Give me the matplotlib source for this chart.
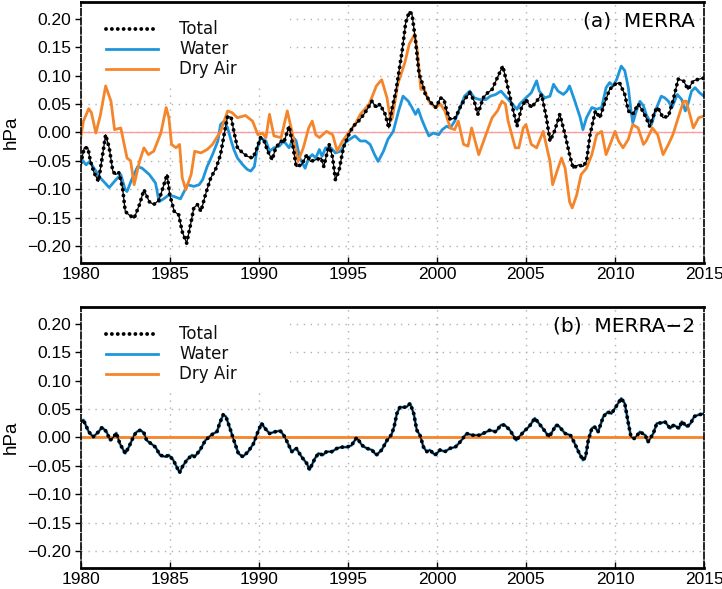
import numpy as np
import matplotlib
matplotlib.use("Agg")
import matplotlib.pyplot as plt
from matplotlib.patches import Rectangle

# (year, hPa) pares
merra_total = [
    (1980.0, -0.054), (1980.2, -0.027), (1980.4, -0.027), (1980.55, -0.051), (1980.75, -0.071),
    (1981.0, -0.086), (1981.2, -0.045), (1981.4, -0.004), (1981.6, -0.027), (1981.8, -0.068),
    (1981.95, -0.074), (1982.15, -0.071), (1982.35, -0.098), (1982.5, -0.139), (1982.7, -0.145),
    (1983.0, -0.151), (1983.3, -0.127), (1983.55, -0.101), (1983.85, -0.122), (1984.1, -0.127),
    (1984.4, -0.119), (1984.7, -0.089), (1984.85, -0.074), (1985.0, -0.110), (1985.25, -0.139),
    (1985.5, -0.145), (1985.7, -0.175), (1985.95, -0.195), (1986.2, -0.157), (1986.35, -0.133),
    (1986.55, -0.127), (1986.75, -0.139), (1987.0, -0.110), (1987.3, -0.080), (1987.6, -0.063),
    (1987.85, -0.039), (1988.05, -0.004), (1988.25, 0.029), (1988.45, 0.026), (1988.6, 0.002),
    (1988.8, -0.027), (1989.1, -0.036), (1989.35, -0.042), (1989.65, -0.045), (1989.8, -0.036),
    (1990.1, -0.009), (1990.3, -0.015), (1990.5, -0.033), (1990.75, -0.048), (1990.95, -0.027),
    (1991.25, -0.015), (1991.4, -0.018), (1991.7, 0.011), (1991.9, -0.021), (1992.1, -0.060),
    (1992.4, -0.057), (1992.7, -0.039), (1992.9, -0.051), (1993.2, -0.048), (1993.5, -0.045),
    (1993.65, -0.060), (1993.95, -0.021), (1994.15, -0.045), (1994.3, -0.083), (1994.5, -0.068),
    (1994.75, -0.027), (1995.05, -0.004), (1995.3, 0.011), (1995.6, 0.020), (1995.9, 0.032),
    (1996.15, 0.044), (1996.35, 0.055), (1996.6, 0.044), (1996.8, 0.050), (1997.1, 0.032),
    (1997.3, 0.008), (1997.45, 0.038), (1997.7, 0.073), (1997.85, 0.103), (1998.05, 0.144),
    (1998.25, 0.194), (1998.45, 0.213), (1998.6, 0.209), (1998.8, 0.162), (1999.0, 0.103),
    (1999.2, 0.085), (1999.35, 0.067), (1999.65, 0.053), (1999.95, 0.044), (2000.2, 0.061),
    (2000.4, 0.058), (2000.55, 0.038), (2000.75, 0.023), (2001.05, 0.026), (2001.3, 0.044),
    (2001.55, 0.058), (2001.85, 0.070), (2002.1, 0.055), (2002.3, 0.032), (2002.6, 0.061),
    (2002.85, 0.070), (2003.1, 0.076), (2003.4, 0.097), (2003.7, 0.117), (2003.9, 0.091),
    (2004.2, 0.050), (2004.5, 0.011), (2004.75, 0.044), (2005.0, 0.058), (2005.3, 0.044),
    (2005.6, 0.055), (2005.88, 0.067), (2006.15, 0.026), (2006.35, -0.015), (2006.6, 0.002),
    (2006.9, 0.032), (2007.2, -0.004), (2007.45, -0.039), (2007.65, -0.063), (2007.95, -0.057),
    (2008.2, -0.060), (2008.4, -0.051), (2008.6, -0.004), (2008.9, 0.038), (2009.15, 0.026),
    (2009.45, 0.055), (2009.7, 0.076), (2010.0, 0.085), (2010.25, 0.088), (2010.55, 0.067),
    (2010.75, 0.038), (2011.0, 0.032), (2011.3, 0.050), (2011.5, 0.041), (2011.75, 0.026),
    (2011.95, 0.011), (2012.25, 0.038), (2012.4, 0.044), (2012.7, 0.026), (2013.0, 0.029),
    (2013.25, 0.055), (2013.55, 0.094), (2013.85, 0.091), (2014.1, 0.076), (2014.4, 0.091),
    (2014.7, 0.094), (2015.0, 0.096),
]

merra_water = [
    (1980.0, -0.045), (1980.3, -0.057), (1980.5, -0.051), (1980.75, -0.063), (1981.1, -0.080),
    (1981.6, -0.097), (1981.9, -0.086), (1982.25, -0.074), (1982.5, -0.101), (1982.6, -0.104),
    (1982.9, -0.080), (1983.2, -0.060), (1983.45, -0.063), (1983.85, -0.074), (1984.2, -0.089),
    (1984.4, -0.122), (1984.7, -0.116), (1984.95, -0.110), (1985.25, -0.113), (1985.6, -0.117),
    (1986.0, -0.092), (1986.35, -0.095), (1986.65, -0.092), (1986.85, -0.083), (1987.1, -0.060),
    (1987.4, -0.039), (1987.7, -0.015), (1987.85, 0.014), (1988.05, 0.020), (1988.25, 0.008),
    (1988.45, -0.015), (1988.6, -0.030), (1988.8, -0.045), (1989.1, -0.057), (1989.35, -0.065),
    (1989.55, -0.068), (1989.75, -0.060), (1989.9, -0.030), (1990.1, -0.009), (1990.4, -0.015),
    (1990.6, -0.033), (1990.85, -0.027), (1991.15, -0.024), (1991.4, -0.015), (1991.7, -0.027),
    (1991.95, -0.009), (1992.1, -0.015), (1992.3, -0.045), (1992.6, -0.063), (1992.8, -0.045),
    (1993.0, -0.039), (1993.2, -0.045), (1993.4, -0.030), (1993.55, -0.042), (1993.75, -0.027),
    (1994.05, -0.027), (1994.3, -0.036), (1994.6, -0.033), (1994.85, -0.018), (1995.1, -0.012),
    (1995.4, -0.006), (1995.7, -0.015), (1996.0, -0.015), (1996.25, -0.021), (1996.5, -0.039),
    (1996.7, -0.051), (1997.0, -0.033), (1997.25, -0.012), (1997.55, 0.002), (1997.85, 0.038),
    (1998.1, 0.064), (1998.4, 0.055), (1998.6, 0.044), (1998.8, 0.032), (1998.95, 0.041),
    (1999.15, 0.023), (1999.35, 0.008), (1999.55, -0.006), (1999.8, -0.001), (2000.1, -0.004),
    (2000.3, 0.005), (2000.55, 0.011), (2000.75, 0.008), (2001.0, 0.020), (2001.3, 0.044),
    (2001.55, 0.064), (2001.85, 0.073), (2002.1, 0.061), (2002.4, 0.058), (2002.75, 0.058),
    (2003.0, 0.064), (2003.3, 0.067), (2003.6, 0.073), (2003.85, 0.064), (2004.1, 0.055),
    (2004.5, 0.041), (2004.65, 0.050), (2005.0, 0.061), (2005.3, 0.070), (2005.6, 0.091),
    (2005.75, 0.073), (2006.05, 0.061), (2006.35, 0.064), (2006.55, 0.085), (2006.8, 0.073),
    (2007.1, 0.067), (2007.3, 0.073), (2007.45, 0.082), (2007.75, 0.055), (2008.05, 0.026),
    (2008.2, 0.005), (2008.4, 0.026), (2008.7, 0.044), (2008.97, 0.041), (2009.25, 0.044),
    (2009.5, 0.079), (2009.7, 0.088), (2009.9, 0.082), (2010.1, 0.094), (2010.35, 0.117),
    (2010.55, 0.109), (2010.75, 0.079), (2010.9, 0.038), (2011.0, 0.017), (2011.2, 0.038),
    (2011.4, 0.055), (2011.6, 0.047), (2011.75, 0.032), (2012.05, 0.014), (2012.3, 0.041),
    (2012.6, 0.064), (2012.8, 0.061), (2013.0, 0.055), (2013.2, 0.044), (2013.5, 0.067),
    (2013.75, 0.058), (2013.95, 0.038), (2014.1, 0.050), (2014.3, 0.073), (2014.5, 0.079),
    (2014.75, 0.070), (2015.0, 0.064),
]

merra_dry = [
    (1980.0, -0.009), (1980.15, 0.020), (1980.45, 0.042), (1980.6, 0.035), (1980.85, -0.001),
    (1981.1, 0.030), (1981.4, 0.082), (1981.7, 0.055), (1981.9, 0.005), (1982.25, 0.008),
    (1982.6, -0.045), (1982.8, -0.050), (1983.0, -0.092), (1983.3, -0.051), (1983.55, -0.027),
    (1983.8, -0.039), (1984.1, -0.033), (1984.5, -0.001), (1984.8, 0.044), (1984.95, 0.026),
    (1985.1, -0.021), (1985.35, -0.027), (1985.55, -0.021), (1985.7, -0.080), (1985.9, -0.101),
    (1986.2, -0.074), (1986.4, -0.033), (1986.75, -0.036), (1987.1, -0.030), (1987.4, -0.021),
    (1987.85, 0.002), (1988.25, 0.038), (1988.5, 0.035), (1988.8, 0.026), (1989.25, 0.030),
    (1989.65, 0.020), (1989.95, -0.004), (1990.2, -0.001), (1990.4, -0.009), (1990.6, 0.032),
    (1990.85, -0.006), (1991.25, -0.009), (1991.6, 0.038), (1991.9, -0.004), (1992.2, -0.051),
    (1992.5, -0.027), (1992.8, 0.008), (1993.0, 0.020), (1993.2, -0.004), (1993.4, -0.009),
    (1993.8, 0.002), (1994.15, -0.004), (1994.4, -0.033), (1994.7, -0.015), (1995.1, 0.002),
    (1995.4, 0.014), (1995.7, 0.032), (1995.95, 0.041), (1996.2, 0.050), (1996.6, 0.082),
    (1996.9, 0.093), (1997.2, 0.061), (1997.4, 0.020), (1997.5, 0.026), (1997.8, 0.085),
    (1998.2, 0.123), (1998.45, 0.156), (1998.75, 0.173), (1998.9, 0.144), (1999.1, 0.076),
    (1999.3, 0.076), (1999.55, 0.055), (1999.9, 0.044), (2000.2, 0.050), (2000.45, 0.038),
    (2000.75, 0.008), (2001.0, 0.005), (2001.2, 0.020), (2001.5, -0.021), (2001.75, -0.024),
    (2001.95, 0.008), (2002.2, -0.021), (2002.35, -0.039), (2002.75, -0.004), (2003.1, 0.026),
    (2003.4, 0.038), (2003.65, 0.055), (2003.85, 0.050), (2004.0, 0.020), (2004.4, -0.027),
    (2004.6, -0.027), (2004.85, 0.008), (2005.0, 0.014), (2005.3, -0.021), (2005.6, -0.027),
    (2005.97, 0.002), (2006.35, -0.051), (2006.5, -0.092), (2006.8, -0.063), (2007.0, -0.045),
    (2007.2, -0.063), (2007.45, -0.122), (2007.6, -0.133), (2007.85, -0.110), (2008.1, -0.074),
    (2008.4, -0.063), (2008.7, -0.039), (2008.97, -0.004), (2009.25, 0.002), (2009.5, -0.039),
    (2009.8, -0.015), (2010.0, 0.002), (2010.2, -0.015), (2010.45, -0.027), (2010.75, -0.012),
    (2011.0, 0.014), (2011.3, 0.008), (2011.6, -0.021), (2011.75, -0.015), (2012.1, 0.008),
    (2012.4, -0.004), (2012.7, -0.039), (2013.0, -0.021), (2013.25, -0.004), (2013.55, 0.026),
    (2013.85, 0.055), (2014.0, 0.055), (2014.2, 0.032), (2014.4, 0.008), (2014.7, 0.026),
    (2015.0, 0.029),
]

# MERRA-2: agua == total, aire seco == 0
merra2_total = [
    (1980.0, 0.028), (1980.15, 0.031), (1980.45, 0.010), (1980.7, 0.001), (1981.0, 0.010),
    (1981.2, 0.018), (1981.45, 0.010), (1981.65, -0.005), (1981.85, 0.001), (1982.0, 0.008),
    (1982.2, -0.011), (1982.5, -0.028), (1982.7, -0.017), (1983.0, 0.004), (1983.15, 0.010),
    (1983.35, 0.013), (1983.55, 0.008), (1983.7, -0.005), (1984.0, -0.012), (1984.2, -0.017),
    (1984.45, -0.031), (1984.75, -0.034), (1984.95, -0.031), (1985.2, -0.040), (1985.55, -0.062),
    (1985.7, -0.052), (1985.95, -0.040), (1986.25, -0.031), (1986.4, -0.034), (1986.7, -0.022),
    (1987.0, -0.005), (1987.25, 0.002), (1987.45, 0.007), (1987.65, 0.010), (1987.8, 0.025),
    (1988.0, 0.040), (1988.15, 0.037), (1988.35, 0.019), (1988.6, -0.005), (1988.85, -0.028),
    (1989.1, -0.034), (1989.4, -0.025), (1989.7, -0.011), (1989.95, 0.010), (1990.15, 0.025),
    (1990.35, 0.016), (1990.6, 0.007), (1990.9, 0.010), (1991.2, 0.012), (1991.4, 0.004),
    (1991.55, -0.005), (1991.85, -0.025), (1992.1, -0.019), (1992.4, -0.034), (1992.7, -0.046),
    (1992.85, -0.057), (1993.15, -0.037), (1993.35, -0.028), (1993.6, -0.031), (1993.8, -0.025),
    (1994.1, -0.025), (1994.4, -0.019), (1994.65, -0.017), (1994.95, -0.017), (1995.2, -0.014),
    (1995.5, 0.000), (1995.8, -0.014), (1996.05, -0.019), (1996.35, -0.022), (1996.6, -0.031),
    (1996.9, -0.022), (1997.2, -0.005), (1997.45, 0.005), (1997.6, 0.019), (1997.75, 0.042),
    (1997.93, 0.054), (1998.1, 0.053), (1998.3, 0.054), (1998.5, 0.060), (1998.7, 0.042),
    (1998.87, 0.013), (1999.05, 0.004), (1999.25, -0.017), (1999.43, -0.025), (1999.6, -0.022),
    (1999.9, -0.031), (2000.18, -0.022), (2000.45, -0.025), (2000.75, -0.019), (2001.03, -0.017),
    (2001.3, -0.008), (2001.67, 0.007), (2002.0, 0.004), (2002.4, 0.004), (2002.98, 0.013),
    (2003.3, 0.010), (2003.6, 0.022), (2003.8, 0.022), (2004.1, 0.013), (2004.45, -0.005),
    (2004.87, 0.010), (2005.2, 0.020), (2005.5, 0.034), (2005.95, 0.016), (2006.3, 0.001),
    (2006.7, 0.022), (2006.85, 0.020), (2007.2, 0.007), (2007.5, 0.004), (2007.7, -0.008),
    (2007.95, -0.025), (2008.2, -0.040), (2008.35, -0.034), (2008.5, -0.005), (2008.7, 0.016),
    (2008.85, 0.019), (2009.05, 0.010), (2009.35, 0.037), (2009.6, 0.045), (2009.8, 0.042),
    (2010.05, 0.054), (2010.35, 0.069), (2010.55, 0.060), (2010.75, 0.025), (2010.9, 0.001),
    (2011.1, -0.002), (2011.4, 0.010), (2011.7, 0.004), (2011.85, -0.008), (2012.15, 0.007),
    (2012.35, 0.025), (2012.65, 0.026), (2012.8, 0.028), (2013.1, 0.016), (2013.3, 0.022),
    (2013.6, 0.016), (2013.75, 0.028), (2014.05, 0.019), (2014.25, 0.025), (2014.45, 0.037),
    (2014.7, 0.040), (2015.0, 0.042),
]
merra2_water = merra2_total
merra2_dry = [(1980.0, 0.0), (2015.0, 0.0)]

etiquetas = ["Total", "Water", "Dry Air"]
paneles = ["(a)  MERRA", "(b)  MERRA\u22122"]
yticks = [-0.20, -0.15, -0.10, -0.05, 0.00, 0.05, 0.10, 0.15, 0.20]
xticks = [1980, 1985, 1990, 1995, 2000, 2005, 2010, 2015]

AZUL = "#1f96dc"
NARANJA = "#f5852a"
ROSA = "#ff9c9c"


def separar(pares):
    arr = np.array(pares)
    return arr[:, 0], arr[:, 1]


def dibujar_panel(ax, total, agua, seco, titulo):
    ax.set_xlim(1980, 2015)
    ax.set_ylim(-0.23, 0.23)
    ax.set_axisbelow(True)
    ax.grid(True, color="#b0b0b0", linestyle=(0, (1, 4)), linewidth=1.0)

    # caja blanca detras de la leyenda
    ax.add_patch(Rectangle((0, 0.674), 0.336, 0.326, transform=ax.transAxes,
                           facecolor="white", edgecolor="none", zorder=1))

    ax.axhline(0, color=ROSA, linewidth=1.0, zorder=1.5)

    t, v = separar(agua)
    h_agua, = ax.plot(t, v, color=AZUL, linewidth=2.0, zorder=2)
    t, v = separar(seco)
    h_seco, = ax.plot(t, v, color=NARANJA, linewidth=2.0, zorder=2.1)
    t, v = separar(total)
    ax.plot(t, v, color="black", linewidth=0.9, zorder=3)
    h_total, = ax.plot(t, v, color="black", linewidth=2.8, zorder=3.1,
                       linestyle=(0, (0.01, 1.5)), dash_capstyle="round")

    leg = ax.legend([h_total, h_agua, h_seco], etiquetas, loc="upper left",
                    frameon=False, prop={"family": "DejaVu Sans", "size": 12},
                    handlelength=3.1, handletextpad=1.3, labelspacing=0.12,
                    borderaxespad=0.0, bbox_to_anchor=(0.03, 0.955))
    for txt in leg.get_texts():
        txt.set_color("#111111")

    ax.text(0.985, 0.965, titulo, transform=ax.transAxes, ha="right", va="top",
            fontsize=14.5, family="DejaVu Sans", zorder=5)

    ax.set_yticks(yticks)
    ax.set_yticklabels(["%.2f" % y if y >= 0 else "\u2212%.2f" % -y for y in yticks])
    ax.set_xticks(xticks)
    ax.tick_params(axis="y", direction="out", length=4, width=1.0, labelsize=12.5,
                   right=False, pad=3)
    ax.tick_params(axis="x", direction="in", length=4, width=1.0, labelsize=12.5,
                   top=False, pad=3)
    ax.set_ylabel("hPa", fontsize=13.5, labelpad=5)

    for lado in ("top", "bottom"):
        ax.spines[lado].set_linewidth(2.0)
    for lado in ("left", "right"):
        ax.spines[lado].set_linewidth(1.2)
        ax.spines[lado].set_linestyle((0, (4, 1.5)))


plt.rcParams["font.family"] = ["Liberation Sans", "DejaVu Sans"]

fig = plt.figure(figsize=(7.22, 5.89), dpi=100)
ax1 = fig.add_axes([0.1118, 0.5535, 0.8633, 0.4431])
ax2 = fig.add_axes([0.1118, 0.0357, 0.8633, 0.4431])

dibujar_panel(ax1, merra_total, merra_water, merra_dry, paneles[0])
dibujar_panel(ax2, merra2_total, merra2_water, merra2_dry, paneles[1])

fig.savefig("out.png", dpi=100)
